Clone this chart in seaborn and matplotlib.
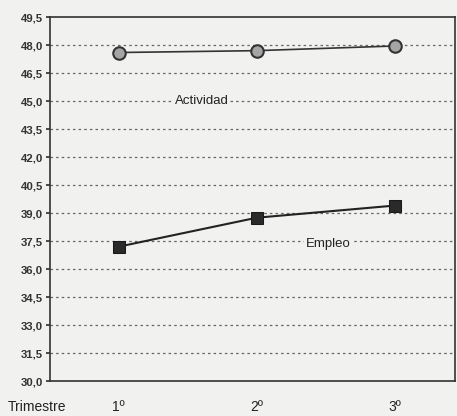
import matplotlib
matplotlib.use("Agg")
import matplotlib.pyplot as plt
import seaborn as sns
import pandas as pd

# Data
trimestres = ["1º", "2º", "3º"]
actividad = [47.6, 47.7, 47.95]
empleo = [37.2, 38.75, 39.4]
y_ticks = [30.0, 31.5, 33.0, 34.5, 36.0, 37.5, 39.0, 40.5, 42.0, 43.5, 45.0, 46.5, 48.0, 49.5]

df = pd.DataFrame({"pos": range(len(trimestres)), "Actividad": actividad, "Empleo": empleo})

bg = "#f1f1ef"
sns.set_theme(style="white")
plt.rcParams["font.family"] = ["Liberation Sans", "DejaVu Sans"]

fig = plt.figure(figsize=(4.57, 4.16), dpi=100, facecolor=bg)
ax = fig.add_axes([0.109, 0.084, 0.887, 0.875])
ax.set_facecolor(bg)

# dashed gridlines
for v in y_ticks[1:-1]:
    ax.axhline(v, color="#666666", lw=0.9, ls=(0, (2, 2.5)), zorder=1)

sns.lineplot(data=df, x="pos", y="Actividad", ax=ax, color="#333333", lw=1.2,
             marker="o", markersize=9, markerfacecolor="#a5a5a5",
             markeredgecolor="#333333", markeredgewidth=1.5, zorder=3)
sns.lineplot(data=df, x="pos", y="Empleo", ax=ax, color="#222222", lw=1.5,
             marker="s", markersize=8, markerfacecolor="#2a2a2a",
             markeredgecolor="#1a1a1a", zorder=3)

ax.text(0.6, 45.0, "Actividad", fontsize=9.5, color="#222222", ha="center", va="center",
        bbox=dict(facecolor=bg, edgecolor="none", pad=1), zorder=4)
ax.text(1.52, 37.35, "Empleo", fontsize=9.5, color="#222222", ha="center", va="center",
        bbox=dict(facecolor=bg, edgecolor="none", pad=1), zorder=4)

ax.set_xlim(-0.5, 2.44)
ax.set_ylim(30.0, 49.5)
ax.set_yticks(y_ticks)
ax.set_yticklabels([f"{v:.1f}".replace(".", ",") for v in y_ticks],
                   fontsize=8.2, fontweight="bold", color="#333333")
ax.set_xticks([0.47, 1.46])
ax.set_xticklabels([])
ax.tick_params(axis="x", length=3, color="#333333")
ax.tick_params(axis="y", length=3, pad=2, left=True, color="#333333")
for i, t in enumerate(trimestres):
    ax.text(i, -0.072, t, transform=ax.get_xaxis_transform(),
            fontsize=10, ha="center", va="center", color="#222222")
ax.text(-0.105, -0.072, "Trimestre", transform=ax.transAxes,
        fontsize=10, ha="left", va="center", color="#222222")
ax.set_xlabel("")
ax.set_ylabel("")
for s in ax.spines.values():
    s.set_color("#333333")
    s.set_linewidth(1.2)
    s.set_visible(True)

fig.savefig("out.png", dpi=100, facecolor=fig.get_facecolor())
